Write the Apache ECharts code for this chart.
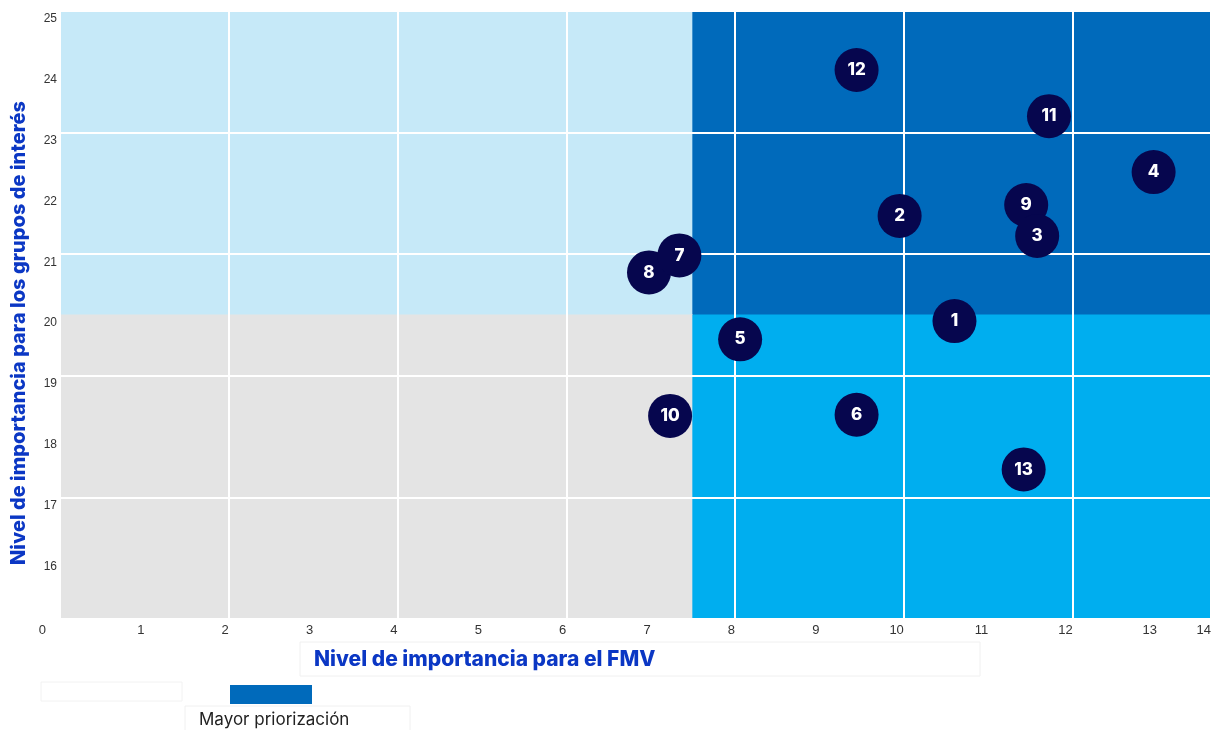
<!DOCTYPE html>
<html>
<head>
<meta charset="utf-8">
<script src="https://cdn.jsdelivr.net/npm/echarts@6/dist/echarts.min.js"></script>
<style>
  html, body { margin: 0; padding: 0; background: #ffffff; overflow: hidden; }
  #chart { width: 1211px; height: 730px; }
</style>
</head>
<body>
<div id="chart"></div>
<script>
// Topic ids, in drawing order (later ones sit on top)
const topicIds = [12, 11, 4, 9, 3, 2, 8, 7, 1, 5, 10, 6, 13];
// Importance for the FMV (x)
const fmvScores = [9.44, 11.72, 12.96, 11.45, 11.58, 9.95, 6.98, 7.34, 10.60, 8.06, 7.23, 9.44, 11.42];
// Importance for stakeholder groups (y)
const groupScores = [24.03, 23.27, 22.35, 21.81, 21.30, 21.63, 20.70, 20.98, 19.90, 19.60, 18.34, 18.36, 17.46];

// Axis tick labels
const xTickLabels = ['0', '1', '2', '3', '4', '5', '6', '7', '8', '9', '10', '11', '12', '13', '14'];
const yTickLabels = ['15', '16', '17', '18', '19', '20', '21', '22', '23', '24', '25'];

// Axis extents and quadrant thresholds
const xMin = 0, xMax = 13.64;
const yMin = 15, yMax = 25;
const xSplit = 7.5, ySplit = 20;

const xTitle = 'Nivel de importancia para el FMV';
const yTitle = 'Nivel de importancia para los grupos de interés';
const legendLabel = 'Mayor priorización';

const C_LIGHT = '#c6e9f8';
const C_DARK = '#006abb';
const C_BRIGHT = '#00aeef';
const C_GREY = '#e4e4e4';
const C_BUBBLE = '#06064e';
const C_TITLE = '#0b37c4';

const points = topicIds.map((id, i) => ({ value: [fmvScores[i], groupScores[i]], id: id }));

const chart = echarts.init(document.getElementById('chart'), null, { renderer: 'canvas' });

const labelFont = '"Liberation Sans", Arial, sans-serif';
const titleFont = 'Inter, "Noto Sans", sans-serif';

function quadrant(x0, y0, x1, y1, color) {
  return [
    { xAxis: x0, yAxis: y0, itemStyle: { color: color, borderColor: color, borderWidth: 1 } },
    { xAxis: x1, yAxis: y1 }
  ];
}

chart.setOption({
  animation: false,
  grid: { left: 60, right: 0, top: 11, bottom: 111, containLabel: false, outerBoundsMode: 'none' },
  xAxis: [
    {
      type: 'value', min: xMin, max: xMax, interval: 1,
      axisLine: { show: false }, axisTick: { show: false }, splitLine: { show: false },
      axisLabel: {
        show: true, showMinLabel: true, showMaxLabel: true,
        margin: 5, align: 'right', color: '#333', fontSize: 13, fontFamily: labelFont,
        formatter: function (v) {
          const t = xTickLabels[Math.round(v)];
          return Math.round(v) === 0 ? '{z|' + t + '}' : t;
        },
        rich: { z: { padding: [0, 14, 0, 0], color: '#333', fontSize: 13, fontFamily: labelFont } }
      }
    },
    {
      type: 'value', min: xMin, max: xMax, interval: 2, position: 'bottom', z: 3,
      axisLine: { show: false }, axisTick: { show: false }, axisLabel: { show: false },
      splitLine: { show: true, lineStyle: { color: '#ffffff', width: 2 } }
    }
  ],
  yAxis: [
    {
      type: 'value', min: yMin, max: yMax, interval: 1,
      axisLine: { show: false }, axisTick: { show: false }, splitLine: { show: false },
      axisLabel: {
        show: true, showMinLabel: false, showMaxLabel: true,
        margin: 3, verticalAlign: 'top', padding: [2, 0, 0, 0],
        color: '#333', fontSize: 12, fontFamily: labelFont,
        formatter: function (v) { return yTickLabels[Math.round(v) - yMin]; }
      }
    },
    {
      type: 'value', min: yMin, max: yMax, interval: 2, position: 'left', z: 3,
      axisLine: { show: false }, axisTick: { show: false }, axisLabel: { show: false },
      splitLine: { show: true, lineStyle: { color: '#ffffff', width: 2 } }
    }
  ],
  series: [
    {
      // quadrant backgrounds
      type: 'scatter', xAxisIndex: 0, yAxisIndex: 0, data: [], silent: true, z: 0,
      markArea: {
        silent: true,
        data: [
          quadrant(xMin, ySplit, xSplit, yMax, C_LIGHT),
          quadrant(xSplit, ySplit, xMax, yMax, C_DARK),
          quadrant(xMin, yMin, xSplit, ySplit, C_GREY),
          quadrant(xSplit, yMin, xMax, ySplit, C_BRIGHT)
        ]
      }
    },
    {
      type: 'scatter', xAxisIndex: 0, yAxisIndex: 0, z: 5,
      symbol: 'circle', symbolSize: 44,
      itemStyle: { color: C_BUBBLE, opacity: 1 },
      label: {
        show: true, position: 'inside', color: '#ffffff',
        fontFamily: titleFont, fontWeight: 800, fontSize: 17,
        formatter: function (p) { return String(p.data.id); }
      },
      data: points
    }
  ],
  graphic: [
    {
      type: 'text', x: 19, y: 333, rotation: Math.PI / 2, z: 10,
      style: {
        text: yTitle, align: 'center', verticalAlign: 'middle',
        fill: C_TITLE, fontFamily: titleFont, fontWeight: 800, fontSize: 20
      }
    },
    {
      type: 'rect', shape: { x: 300, y: 642, width: 680, height: 34 }, z: 1,
      style: { fill: 'none', stroke: '#f0f0f0', lineWidth: 1 }
    },
    {
      type: 'text', x: 314, y: 660, z: 10,
      style: {
        text: xTitle, align: 'left', verticalAlign: 'middle',
        fill: C_TITLE, fontFamily: titleFont, fontWeight: 800, fontSize: 21
      }
    },
    {
      type: 'rect', shape: { x: 41, y: 682, width: 141, height: 19 }, z: 1,
      style: { fill: 'none', stroke: '#f2f2f2', lineWidth: 1 }
    },
    {
      type: 'rect', shape: { x: 230, y: 685, width: 82, height: 19 }, z: 2,
      style: { fill: C_DARK }
    },
    {
      type: 'rect', shape: { x: 185, y: 706, width: 225, height: 30 }, z: 1,
      style: { fill: 'none', stroke: '#f0f0f0', lineWidth: 1 }
    },
    {
      type: 'text', x: 199, y: 720, z: 10,
      style: {
        text: legendLabel, align: 'left', verticalAlign: 'middle',
        fill: '#222222', fontFamily: titleFont, fontWeight: 400, fontSize: 17
      }
    }
  ]
});
</script>
</body>
</html>
